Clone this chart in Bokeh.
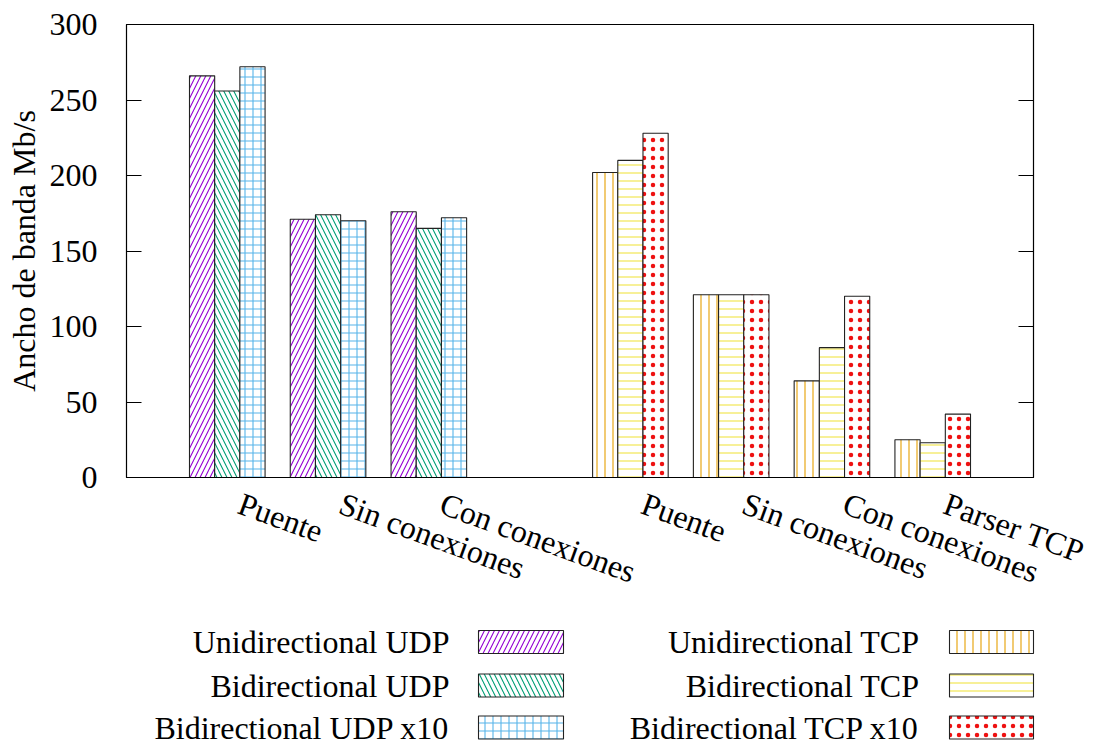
import math
from bokeh.plotting import figure
from bokeh.models import Range1d, FixedTicker, LinearAxis, CustomJSTickFormatter
from bokeh.core.properties import value
from bokeh.embed import file_html
from bokeh.resources import INLINE

# ---------------- data ----------------
udp_groups = ["Puente", "Sin conexiones", "Con conexiones"]
tcp_groups = ["Puente", "Sin conexiones", "Con conexiones", "Parser TCP"]

udp_uni = [266, 171, 176]
udp_bi = [256, 174, 165]
udp_bi10 = [272, 170, 172]

tcp_uni = [202, 121, 64, 25]
tcp_bi = [210, 121, 86, 23]
tcp_bi10 = [228, 121, 120, 42]

udp_names = ["Unidirectional UDP", "Bidirectional UDP", "Bidirectional UDP x10"]
tcp_names = ["Unidirectional TCP", "Bidirectional TCP", "Bidirectional TCP x10"]

y_ticks = [0, 50, 100, 150, 200, 250, 300]
y_label = "Ancho de banda Mb/s"

# ---------------- styles ----------------
FONT = "Liberation Serif"
FS = "32px"
udp_styles = [("#9400D3", "/"), ("#009E73", "\\"), ("#56B4E9", "+")]
tcp_styles = [("#E69F00", "|"), ("#F0E442", "-"), ("#EE1111", ".")]
BAR_W = 0.25
offsets = [-BAR_W, 0.0, BAR_W]
LABEL_SHIFT = 0.125  # nudge of the (invisible) x tick positions for the slanted labels

udp_x = list(range(len(udp_groups)))
tcp_x = [len(udp_groups) + 1 + i for i in range(len(tcp_groups))]

W = 1090
MAIN_H = 622
p = figure(width=W, height=MAIN_H, output_backend="svg", toolbar_location=None,
           x_range=Range1d(-1, 8), y_range=Range1d(0, 300),
           min_border_left=126, min_border_right=W - 1033, min_border_top=24,
           min_border_bottom=MAIN_H - 477)

def hatch_kw(color, pat):
    scale = {"/": 10, "\\": 10, ".": 9}.get(pat, 8)
    weight = {".": 1.6}.get(pat, 1.1)
    return dict(fill_color="white", line_color="#222222", line_width=1.1,
                hatch_color=color, hatch_pattern=pat, hatch_scale=scale,
                hatch_weight=weight)

for vals, (c, pat), off in zip([udp_uni, udp_bi, udp_bi10], udp_styles, offsets):
    p.vbar(x=[xi + off for xi in udp_x], top=vals, bottom=0, width=BAR_W, **hatch_kw(c, pat))
for vals, (c, pat), off in zip([tcp_uni, tcp_bi, tcp_bi10], tcp_styles, offsets):
    p.vbar(x=[xi + off for xi in tcp_x], top=vals, bottom=0, width=BAR_W, **hatch_kw(c, pat))

p.grid.visible = False
p.outline_line_color = "black"
p.outline_line_width = 1.2

# x axis
xa = p.xaxis[0]
tick_pos = [x + LABEL_SHIFT for x in udp_x + tcp_x]
xa.ticker = FixedTicker(ticks=tick_pos)
xa.major_label_overrides = {t: g for t, g in zip(tick_pos, udp_groups + tcp_groups)}
xa.major_label_orientation = -math.radians(20)
xa.major_tick_in = 0
xa.major_tick_out = 0
xa.minor_tick_line_color = None
xa.major_label_standoff = 25
xa.major_label_text_font = FONT
xa.major_label_text_font_size = FS
xa.major_label_text_color = "black"
xa.axis_line_color = "black"

# y axis
ya = p.yaxis[0]
ya.ticker = FixedTicker(ticks=y_ticks)
ya.major_tick_in = 15
ya.major_tick_out = 0
ya.minor_tick_line_color = None
ya.major_label_standoff = 29
ya.major_label_text_font = FONT
ya.major_label_text_font_size = FS
ya.major_label_text_color = "black"
ya.axis_label = y_label
ya.axis_label_text_font = FONT
ya.axis_label_text_font_size = FS
ya.axis_label_text_font_style = "normal"
ya.axis_label_text_color = "black"
ya.axis_label_standoff = 5

# mirrored right ticks
ra = LinearAxis(ticker=FixedTicker(ticks=y_ticks),
                formatter=CustomJSTickFormatter(code="return ''"),
                major_tick_in=15, major_tick_out=0, minor_tick_line_color=None,
                axis_line_color="black", major_label_standoff=0)
p.add_layout(ra, "right")

# ---------------- legend (separate panel, own root) ----------------
LG_H = 744 - MAIN_H
lg = figure(width=W, height=LG_H, output_backend="svg", toolbar_location=None,
            x_range=Range1d(0, W), y_range=Range1d(LG_H, 0),
            x_axis_location=None, y_axis_location=None,
            min_border=0, outline_line_color=None)
lg.grid.visible = False

row_y = [641.5 - MAIN_H, 685 - MAIN_H, 727 - MAIN_H]
cols = [(udp_names, udp_styles, 449, 478, 563), (tcp_names, tcp_styles, 919, 949, 1033)]
for names, styles, tx, l, r in cols:
    lg.text(x=[tx] * len(names), y=row_y, text=names, text_align="right",
            text_baseline="middle", text_font=value(FONT), text_font_size=FS,
            text_color="black")
    for yy, (c, pat) in zip(row_y, styles):
        lg.quad(left=[l], right=[r], top=[yy - 11.5], bottom=[yy + 11.5], **hatch_kw(c, pat))

open("out.html", "w").write(file_html([p, lg], INLINE))
